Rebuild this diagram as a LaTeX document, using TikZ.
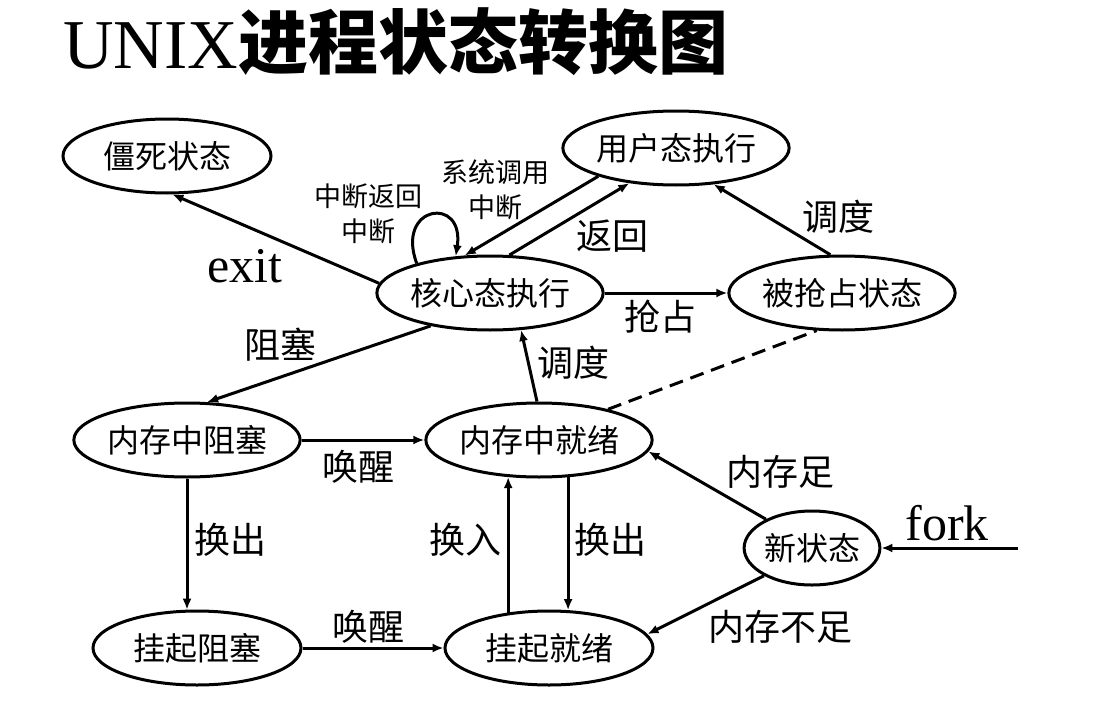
\documentclass[tikz,border=0pt]{standalone}
\usepackage{fontspec}
\setmainfont{Liberation Serif}
\newfontfamily\cjk{Noto Sans CJK SC}
\usetikzlibrary{arrows.meta,shapes.geometric}
\tikzset{
	state/.style={ellipse,draw,line width=3pt,minimum width=208pt,minimum height=74pt,inner sep=0pt,font=\cjk\fontsize{32}{36}\selectfont},
	trans/.style={line width=3pt,-{Latex[length=11pt,width=9pt]}},
	lbl/.style={inner sep=0pt,font=\cjk\fontsize{36}{40}\selectfont},
	smalllbl/.style={inner sep=0pt,align=center,font=\cjk\fontsize{27}{35}\selectfont},
	word/.style={inner sep=0pt,font=\fontsize{50}{54}\selectfont}
}
\begin{document}
\begin{tikzpicture}[x=1pt,y=-1pt]
	\useasboundingbox (0,0) rectangle (1097,701);
	\node[anchor=west,inner sep=0pt] (title) at (63,42) {\fontsize{70}{74}\selectfont UNIX{\cjk\bfseries 进程状态转换图}};
	% states
	\node[state] (dead) at (167,156) {僵死状态};
	\node[state] (user) at (676,148) {用户态执行};
	\node[state] (core) at (490,293) {核心态执行};
	\node[state] (preempt) at (842,293) {被抢占状态};
	\node[state] (memblock) at (187,440) {内存中阻塞};
	\node[state] (memready) at (539,440) {内存中就绪};
	\node[state,minimum width=134pt] (newst) at (812,548) {新状态};
	\node[state] (suspblock) at (197,648) {挂起阻塞};
	\node[state] (suspready) at (549,648) {挂起就绪};
	\coordinate (forkin) at (1018,548);
	% transitions
	\draw[trans] (core.175) -- (dead.278);
	\draw[trans] (core.63) -- (user.217);
	\draw[trans] (user.200) -- (core.124);
	\draw[trans] (core.158) .. controls (395,205) and (465,195) .. (core.133);
	\draw[trans] (core.0) -- (preempt.180);
	\draw[trans] (preempt.107) -- (user.316);
	\draw[trans] (core.209) -- (memblock.62);
	\draw[trans] (memready.93) -- (core.310);
	\draw[line width=3pt,dash pattern=on 14pt off 8pt] (memready.24) -- (preempt.236);
	\draw[trans] (memblock.0) -- (memready.180);
	\draw[trans] (memblock.south) -- (memblock.south |- suspblock.105);
	\draw[trans] (suspready.139) -- (suspready.139 |- memready.230);
	\draw[trans] (memready.308) -- (memready.308 |- suspready.63);
	\draw[trans] (suspblock.0) -- (suspready.180);
	\draw[trans] (newst.148) -- (memready.354);
	\draw[trans] (newst.210) -- (suspready.8);
	\draw[trans] (forkin) -- (newst.0);
	% labels
	\node[word] (lexit) at (245,266) {exit};
	\node[word] (lfork) at (947,523) {fork};
	\node[lbl] (lret) at (612,236) {返回};
	\node[smalllbl] (lsys) at (495,190) {系统调用\\中断};
	\node[smalllbl] (lloop) at (368,214) {中断返回\\中断};
	\node[lbl] (lpre) at (660,317) {抢占};
	\node[lbl] (lsch1) at (838,217) {调度};
	\node[lbl] (lblk) at (280,345) {阻塞};
	\node[lbl] (lsch2) at (573,363) {调度};
	\node[lbl] (lwake1) at (358,467) {唤醒};
	\node[lbl] (lout1) at (230,540) {换出};
	\node[lbl] (lin) at (465,540) {换入};
	\node[lbl] (lout2) at (610,540) {换出};
	\node[lbl] (lwake2) at (368,627) {唤醒};
	\node[lbl] (lenough) at (780,472) {内存足};
	\node[lbl] (lshort) at (780,627) {内存不足};
\end{tikzpicture}
\end{document}
